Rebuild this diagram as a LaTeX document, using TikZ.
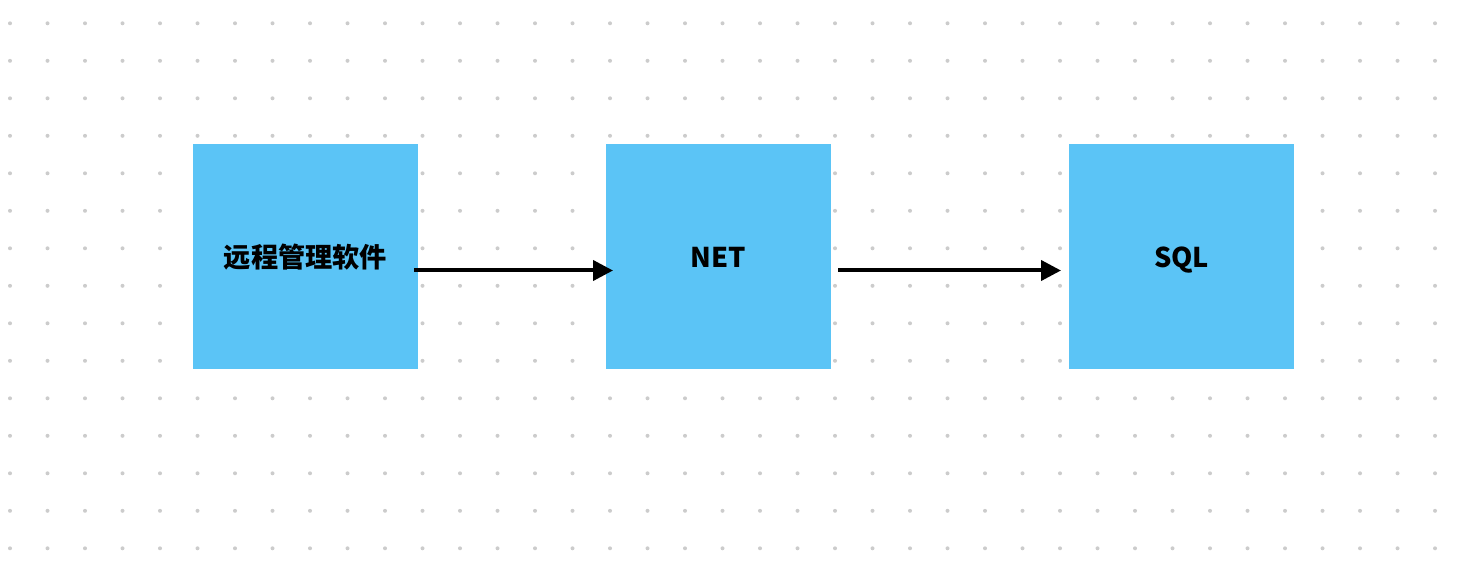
\documentclass[tikz,border=0pt]{standalone}
\usepackage{fontspec}
\newfontfamily\cjk{Noto Sans CJK SC}
\usetikzlibrary{arrows.meta,positioning}
\definecolor{boxblue}{HTML}{5BC4F6}
\definecolor{dotgray}{HTML}{CCCCCC}
\tikzset{
	blk/.style={fill=boxblue,minimum size=112.5pt,inner sep=0pt,outer sep=0pt,text height=14pt,text depth=3pt,font=\cjk\bfseries\fontsize{13.6pt}{15pt}\selectfont},
	arr/.style={-{Triangle[length=10pt,width=10pt]},line width=2pt}
}
\begin{document}
\begin{tikzpicture}[x=0.5pt,y=-0.5pt]
		\useasboundingbox (0,0) rectangle (1460,566);
		\foreach \i in {0,...,38}{
			\foreach \j in {0,...,14}{
				\fill[dotgray] (10+37.5*\i,23.3+37.5*\j) circle(1pt);
			}
		}
		\node[blk] (soft) at (305.5,256.5) {远程管理软件};
		\node[blk,right=94pt of soft] (net) {NET};
		\node[blk,right=119pt of net] (sql) {SQL};
		\draw[arr,shorten <=-2pt,shorten >=-3.5pt] ([yshift=-7pt]soft.east) -- ([yshift=-7pt]net.west);
		\draw[arr,shorten <=3.5pt,shorten >=4pt] ([yshift=-7pt]net.east) -- ([yshift=-7pt]sql.west);
	\end{tikzpicture}
\end{document}
